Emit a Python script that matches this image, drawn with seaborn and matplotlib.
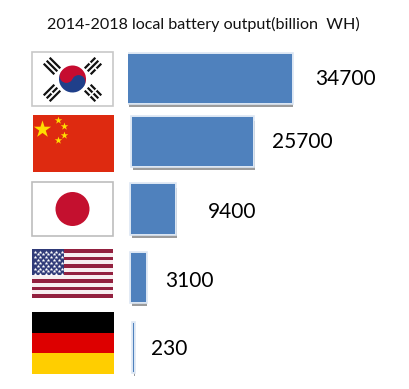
import numpy as np
import pandas as pd
import matplotlib
matplotlib.use('Agg')
import matplotlib.pyplot as plt
import matplotlib.patheffects as pe
from matplotlib.patches import Circle, Rectangle, Wedge
import seaborn as sns

# values from the chart
countries = ['Korea', 'China', 'Japan', 'USA', 'Germany']
output_values = [34700, 25700, 9400, 3100, 230]

# placement in image pixels, the bars in the picture are not evenly laid out
row_centers = [78.5, 141.5, 209, 277.5, 347.5]
bar_lefts = [128, 132, 131, 131, 133]
label_lefts = [315, 272, 208, 165, 151]
label_centers = [79, 142, 212, 281, 349]

W, H = 410, 389
AX_LEFT = 128
PX_PER_UNIT = 164 / 34700

sns.set_theme(style='white')
plt.rcParams['font.family'] = ['Lato', 'DejaVu Sans']

fig = plt.figure(figsize=(W / 100, H / 100), dpi=100, facecolor='white')


def px_axes(x0, y0, x1, y1):
    # axes placed by image pixels, y going down
    a = fig.add_axes([x0 / W, 1 - y1 / H, (x1 - x0) / W, (y1 - y0) / H])
    a.set_xlim(x0, x1)
    a.set_ylim(y1, y0)
    a.axis('off')
    return a


# bars
df = pd.DataFrame({'country': countries, 'output': output_values})
ax = px_axes(AX_LEFT, 45, 400, 380)
ax.axis('on')
sns.barplot(data=df, x='output', y='country', color='#4f81bd', saturation=1,
            width=0.74, ax=ax, edgecolor='none', linewidth=0)
ax.set_xlim(0, 272 / PX_PER_UNIT)
ax.set_xlabel('')
ax.set_ylabel('')
ax.set_axis_off()
for i, patch in enumerate(ax.patches):
    patch.set_y(row_centers[i] / 67 - (45 + 33.5) / 67 - patch.get_height() / 2)
    patch.set_x((bar_lefts[i] - AX_LEFT) / PX_PER_UNIT)
    patch.set_path_effects([
        pe.SimplePatchShadow(offset=(0.9, -2.9), shadow_rgbFace='#9c9c9c', alpha=1),
        pe.Stroke(linewidth=2.6, foreground='#dbe6f3'),
        pe.Normal(),
    ])
    ax.text((label_lefts[i] - AX_LEFT) / PX_PER_UNIT,
            (label_centers[i] - 45 - 33.5) / 67, str(output_values[i]),
            va='center', ha='left', fontsize=15, color='black')

fig.text(203 / W, 1 - 24 / H, '2014-2018 local battery output(billion  WH)',
         ha='center', va='center', fontsize=11.6, color='#111111')

# Korea
a = px_axes(31, 51, 114, 107)
a.add_patch(Rectangle((32, 52), 81, 54, fc='white', ec='#c8c8c8', lw=1.2))
a.add_patch(Wedge((72.5, 79), 13.5, 205, 385, fc='#c60c30', lw=0))
a.add_patch(Wedge((72.5, 79), 13.5, 25, 205, fc='#1f3f8a', lw=0))
a.add_patch(Circle((66.4, 76.2), 6.7, fc='#c60c30', lw=0))
a.add_patch(Circle((78.6, 81.8), 6.7, fc='#1f3f8a', lw=0))
trigrams = [((52, 66), -1, [0, 0, 0]), ((93, 66), 1, [1, 0, 1]),
            ((52, 93), 1, [0, 1, 0]), ((93, 93), -1, [1, 1, 1])]
for (cx, cy), sign, broken in trigrams:
    along = np.array([1, sign * -1]) / np.sqrt(2)
    across = np.array([1, sign]) / np.sqrt(2)
    for off, brk in zip([-4.2, 0, 4.2], broken):
        c = np.array([cx, cy]) + across * off
        p0, p1 = c - along * 7.5, c + along * 7.5
        a.plot([p0[0], p1[0]], [p0[1], p1[1]], color='#111111', lw=1.6,
               solid_capstyle='butt')
        if brk:
            g0, g1 = c - along * 0.8, c + along * 0.8
            a.plot([g0[0], g1[0]], [g0[1], g1[1]], color='white', lw=2.2,
                   solid_capstyle='butt')

# China
a = px_axes(33, 115, 114, 172)
a.add_patch(Rectangle((33, 115), 81, 57, fc='#de2a10', lw=0))
a.scatter([42], [129], marker='*', s=170, c='#ffde00', linewidths=0)
a.scatter([58, 64, 64, 58], [120.5, 126.5, 135, 140.5], marker='*', s=32,
          c='#ffde00', linewidths=0)

# Japan
a = px_axes(31, 181, 114, 237)
a.add_patch(Rectangle((32, 182), 81, 54, fc='white', ec='#bdbdbd', lw=1.2))
a.add_patch(Circle((72.5, 209), 17, fc='#c4102f', lw=0))

# USA
a = px_axes(32, 249, 113, 298)
stripe_h = 49 / 13
for i in range(13):
    a.add_patch(Rectangle((32, 249 + i * stripe_h), 81, stripe_h,
                          fc='#93203f' if i % 2 == 0 else '#f7eef0', lw=0))
a.add_patch(Rectangle((32, 249), 32, stripe_h * 7, fc='#2f3a78', lw=0))
star_x, star_y = [], []
for row in range(9):
    n = 6 if row % 2 == 0 else 5
    for col in range(n):
        star_x.append(35 + col * 5.3 + (0 if row % 2 == 0 else 2.6))
        star_y.append(251.5 + row * 2.85)
a.scatter(star_x, star_y, marker='*', s=8, c='white', linewidths=0)

# Germany
a = px_axes(32, 312, 114, 374)
a.add_patch(Rectangle((32, 312), 82, 21, fc='black', lw=0))
a.add_patch(Rectangle((32, 333), 82, 20, fc='#dd0000', lw=0))
a.add_patch(Rectangle((32, 353), 82, 21, fc='#ffce00', lw=0))

fig.savefig('out.png', dpi=100)
